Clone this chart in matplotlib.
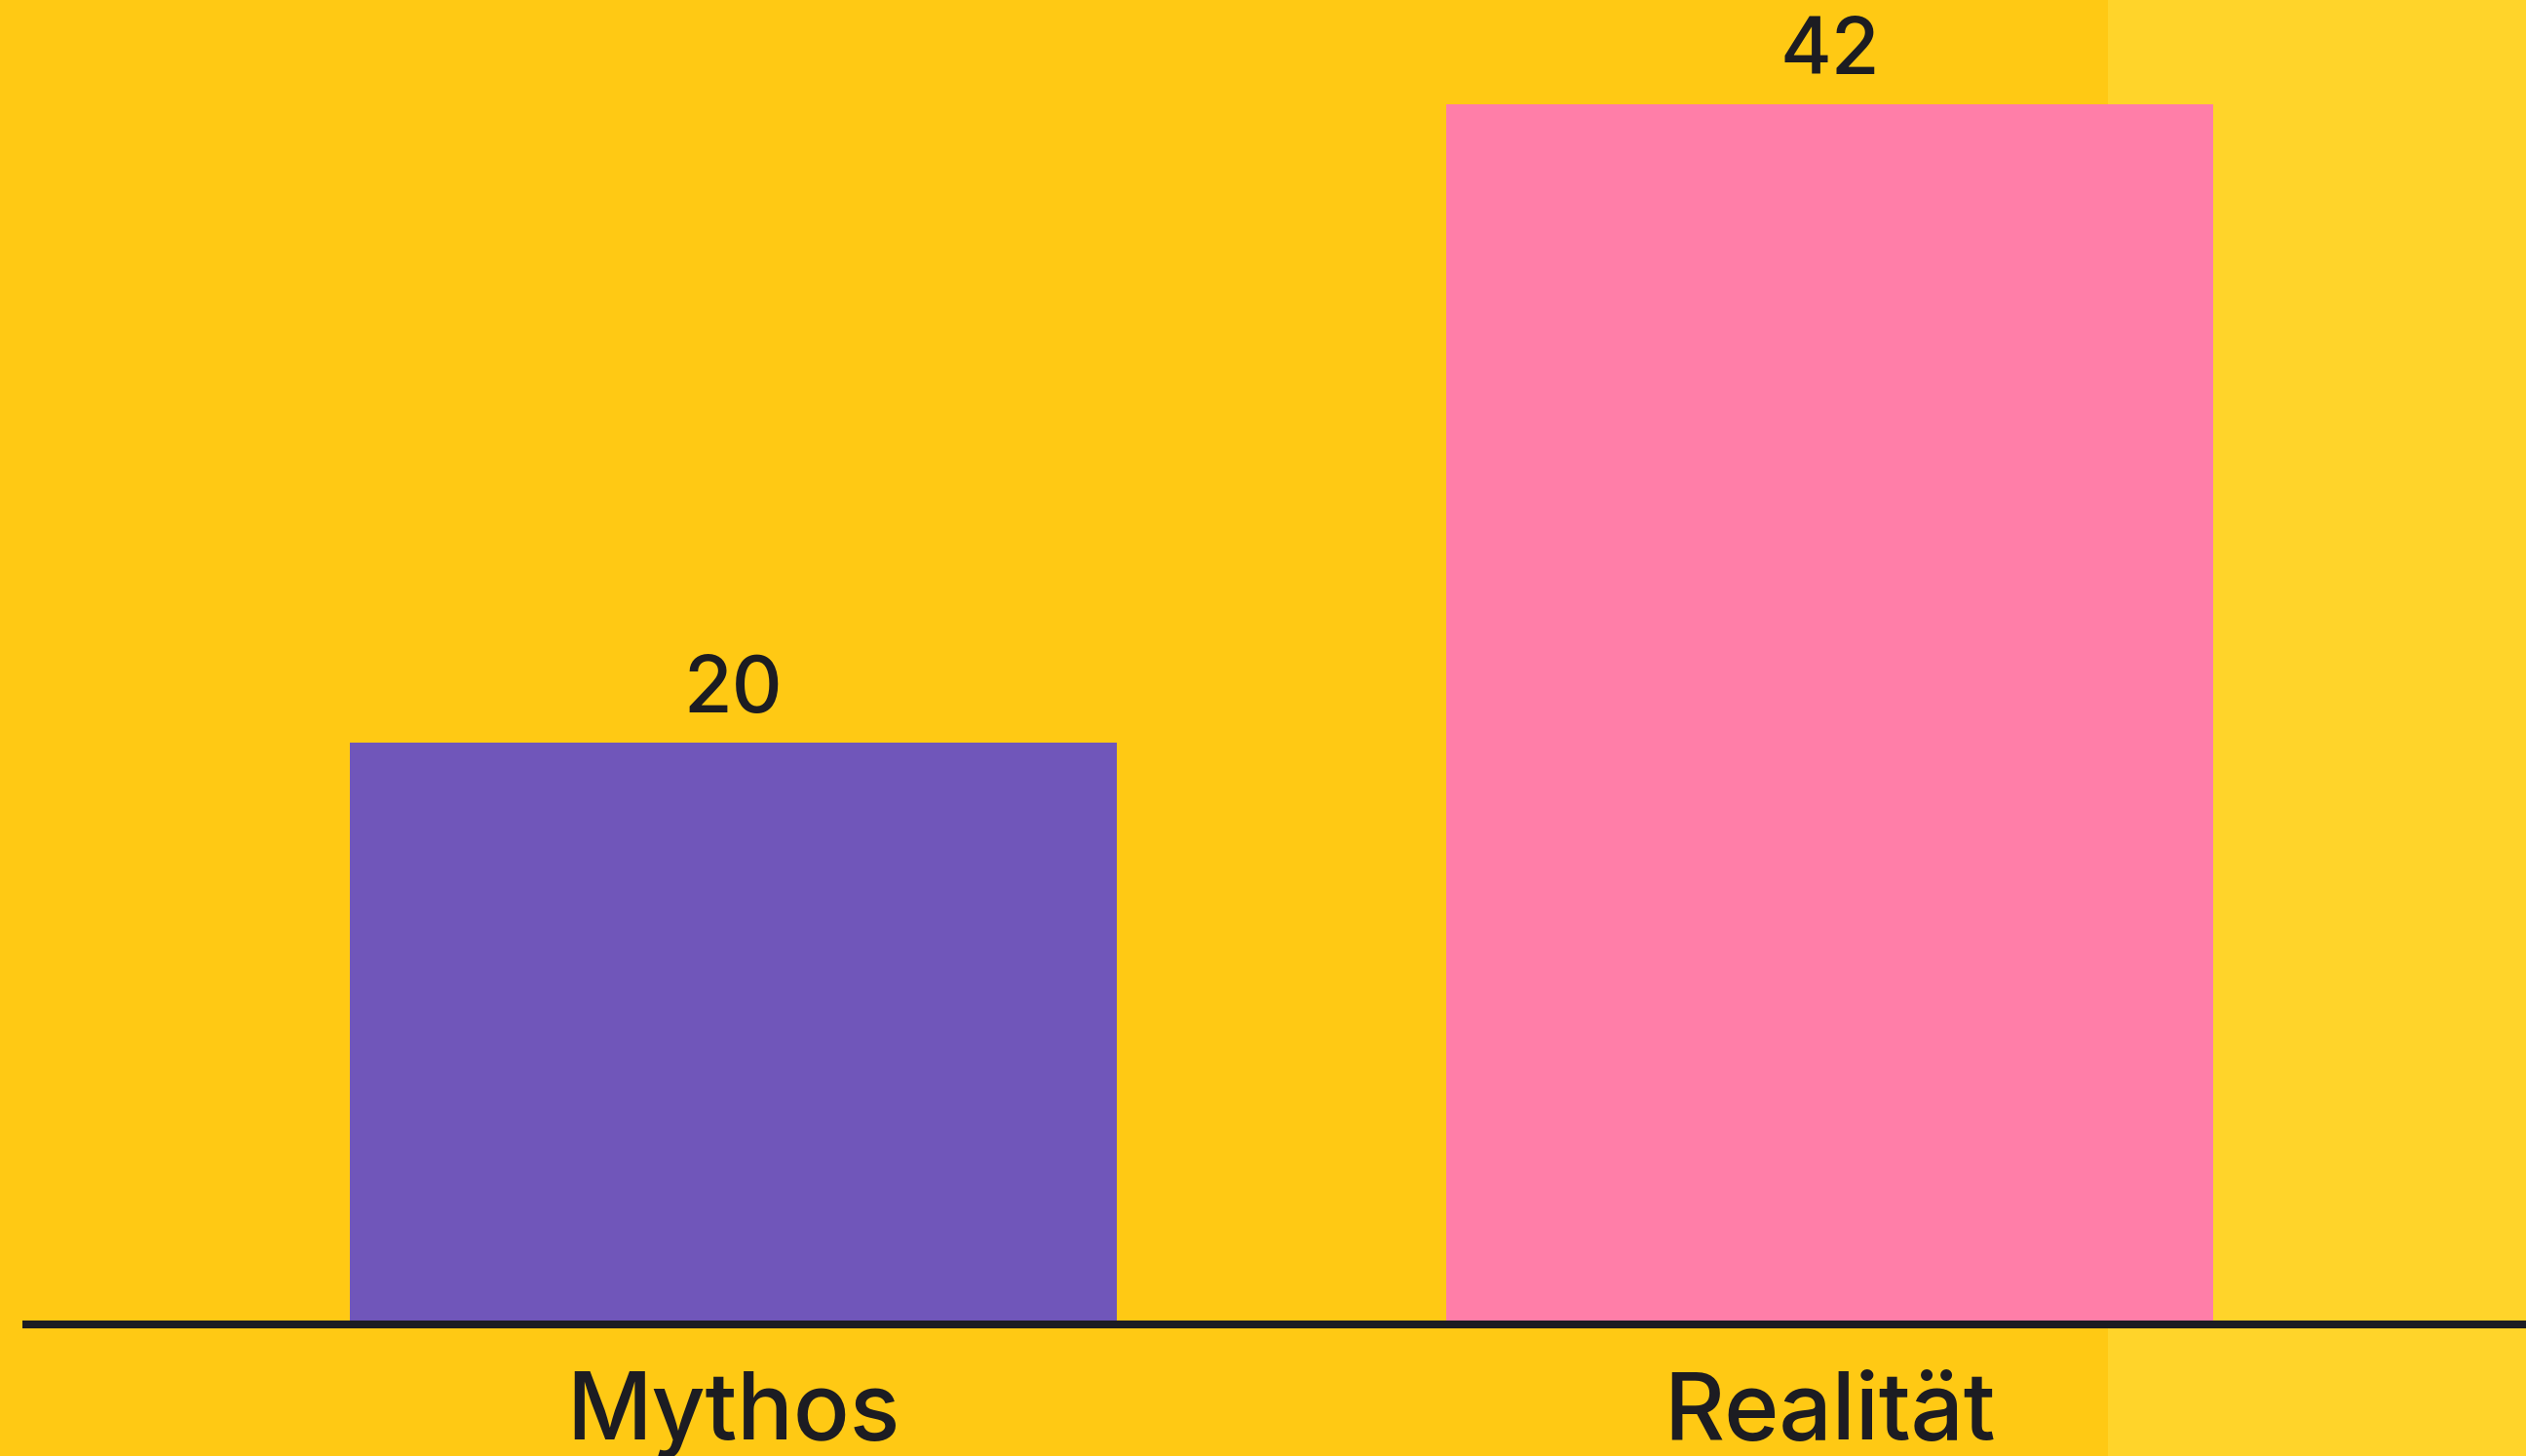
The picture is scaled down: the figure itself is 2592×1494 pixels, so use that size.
import matplotlib
matplotlib.use("Agg")
import matplotlib.pyplot as plt

# data
categories = ["Mythos", "Realität"]
values = [20, 42]
bar_colors = ["#7056BA", "#FF7EA8"]

BG = "#FFC914"
BG_LIGHT = "#FFD42A"
INK = "#1C1C22"

plt.rcParams["font.family"] = ["Inter", "DejaVu Sans"]

fig = plt.figure(figsize=(25.92, 14.94), dpi=100)
fig.patch.set_facecolor(BG)

# lighter strip on the right side of the picture (behind the axes)
bg_ax = fig.add_axes([0, 0, 1, 1], zorder=0)
bg_ax.axvspan(0.8345, 1, color=BG_LIGHT, lw=0)
bg_ax.set_xlim(0, 1)
bg_ax.axis("off")

ax = fig.add_axes([0, 0.0917, 1, 0.9083], zorder=1)
ax.set_facecolor("none")

x = range(len(categories))
bars = ax.bar(x, values, width=0.7, color=bar_colors, zorder=2)
ax.bar_label(bars, labels=[str(v) for v in values], padding=10,
             fontsize=58, color=INK, fontweight="medium")

ax.set_xlim(-0.669, 1.635)
ax.set_ylim(0, 45.6)

# baseline
ax.axhline(-0.08, xmin=23 / 2592, xmax=1, color=INK, lw=5.8, zorder=3,
           clip_on=False, solid_capstyle="butt")

for s in ax.spines.values():
    s.set_visible(False)
ax.set_yticks([])
ax.set_xticks(list(x))
ax.set_xticklabels(categories, fontsize=69, color=INK, fontweight="medium")
ax.tick_params(axis="x", length=0, pad=36)

fig.savefig("out.png", dpi=100, facecolor=fig.get_facecolor())
